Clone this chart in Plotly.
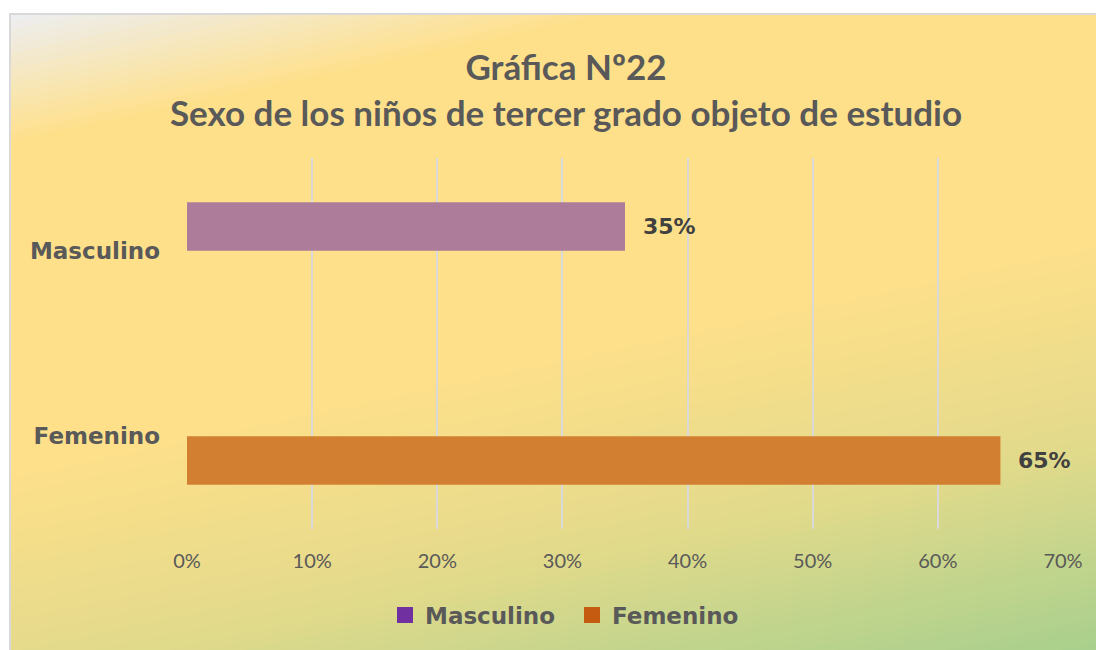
import math
import plotly.graph_objects as go

# ---------------- data ----------------
categories = ["Femenino", "Masculino"]          # bottom -> top
series_names = ["Masculino", "Femenino"]         # legend order
masculino_values = [None, 0.35]
femenino_values = [0.65, None]
tick_values = [0, 0.1, 0.2, 0.3, 0.4, 0.5, 0.6, 0.7]
tick_labels = ["0%", "10%", "20%", "30%", "40%", "50%", "60%", "70%"]
title_lines = ["Gráfica Nº22", "Sexo de los niños de tercer grado objeto de estudio"]

# ---------------- geometry ----------------
W, H = 1096, 650
ML, MR, MT, MB = 187, 33, 158, 121
PW = W - ML - MR
PH = H - MT - MB


def px(x):
    return (x - ML) / PW


def py(y):
    return (H - MB - y) / PH


# ---------------- background gradient ----------------
stops = [
    (0.00, (236, 238, 242)),
    (0.15, (255, 224, 138)),
    (0.52, (255, 224, 138)),
    (0.76, (226, 218, 139)),
    (1.00, (168, 208, 141)),
]


def grad(t):
    t = max(0.0, min(1.0, t))
    for (t0, c0), (t1, c1) in zip(stops[:-1], stops[1:]):
        if t <= t1:
            f = (t - t0) / (t1 - t0) if t1 > t0 else 0
            return "rgb(%d,%d,%d)" % tuple(round(a + (b - a) * f) for a, b in zip(c0, c1))
    return "rgb(%d,%d,%d)" % stops[-1][1]


theta = math.radians(12)
d = (math.sin(theta), math.cos(theta))
e = (math.cos(theta), -math.sin(theta))
ox, oy = 10, 14
Lg = (W - ox) * d[0] + (H - oy) * d[1]
N = 110
shapes = []
for i in range(N):
    ta = i / N if i > 0 else -1.0
    tb = (i + 1) / N + 0.004 if i < N - 1 else 2.0
    pts = []
    for tt, s in [(ta, -2500), (ta, 2500), (tb, 2500), (tb, -2500)]:
        x = ox + d[0] * tt * Lg + e[0] * s
        y = oy + d[1] * tt * Lg + e[1] * s
        pts.append((px(x), py(y)))
    path = "M %f,%f L %f,%f L %f,%f L %f,%f Z" % tuple(v for p in pts for v in p)
    shapes.append(dict(type="path", xref="paper", yref="paper", path=path,
                       fillcolor=grad((i + 0.5) / N), line=dict(width=0), layer="below"))

# white outside the chart frame
shapes.append(dict(type="rect", xref="paper", yref="paper", x0=px(-50), x1=px(10),
                   y0=py(H + 50), y1=py(-50), fillcolor="white", line=dict(width=0), layer="below"))
shapes.append(dict(type="rect", xref="paper", yref="paper", x0=px(-50), x1=px(W + 50),
                   y0=py(14), y1=py(-50), fillcolor="white", line=dict(width=0), layer="below"))
# frame
shapes.append(dict(type="rect", xref="paper", yref="paper", x0=px(10), x1=px(W + 20),
                   y0=py(H + 20), y1=py(14), fillcolor="rgba(0,0,0,0)",
                   line=dict(color="#D9D9D9", width=2), layer="below"))

# ---------------- figure ----------------
fig = go.Figure()
fig.add_trace(go.Bar(y=categories, x=femenino_values, orientation="h", name="Femenino",
                     marker=dict(color="#D37F32", line=dict(width=0)), showlegend=False,
                     hoverinfo="skip"))
fig.add_trace(go.Bar(y=categories, x=masculino_values, orientation="h", name="Masculino",
                     marker=dict(color="#AD7C9A", line=dict(width=0)), showlegend=False,
                     hoverinfo="skip"))
legend_colors = {"Masculino": "#7030A0", "Femenino": "#C55A11"}
for nm in series_names:
    fig.add_trace(go.Scatter(x=[None], y=[None], mode="markers", name=nm,
                             marker=dict(symbol="square", size=16, color=legend_colors[nm]),
                             showlegend=True))

annotations = []
for vals, side in [(masculino_values, 1), (femenino_values, -1)]:
    for cat, v in zip(categories, vals):
        if v is None:
            continue
        annotations.append(dict(x=v, y=cat, xref="x", yref="y", text=f"{round(v*100)}%",
                                showarrow=False, xanchor="left", yanchor="middle",
                                xshift=16, yshift=side * 24.5,
                                font=dict(family="DejaVu Sans", size=22, color="#404040",
                                          weight="bold")))

fig.update_layout(
    width=W, height=H,
    margin=dict(l=ML, r=MR, t=MT, b=MB, autoexpand=False),
    paper_bgcolor="white",
    plot_bgcolor="rgba(0,0,0,0)",
    barmode="group",
    bargap=0.477,
    bargroupgap=0,
    shapes=shapes,
    annotations=annotations,
    title=dict(text="<br>".join(title_lines), x=566 / W, xanchor="center",
               y=1 - 80 / H, yanchor="top",
               font=dict(family="Lato", size=35, color="#595959", weight="bold")),
    xaxis=dict(range=[0, 0.7], tickvals=tick_values, ticktext=tick_labels,
               showgrid=True, gridcolor="#D9D9D9", gridwidth=2, zeroline=False,
               showline=False, ticks="", ticklabelstandoff=18,
               tickfont=dict(family="Lato", size=20, color="#595959")),
    yaxis=dict(type="category", categoryorder="array", categoryarray=categories,
               range=[-0.5, 1.5], showgrid=False, zeroline=False, showline=False,
               ticks="", ticklabelstandoff=26,
               tickfont=dict(family="DejaVu Sans", size=23, color="#595959", weight="bold")),
    legend=dict(orientation="h", x=px(572), xanchor="center", y=py(615), yanchor="middle",
                bgcolor="rgba(0,0,0,0)", entrywidth=142, entrywidthmode="pixels",
                font=dict(family="DejaVu Sans", size=23, color="#595959", weight="bold"),
                itemclick=False, itemdoubleclick=False),
    showlegend=True,
)

fig.write_html("out.html", config={"displayModeBar": False},
               post_script="document.body.style.margin='0';document.body.style.overflow='hidden';")
